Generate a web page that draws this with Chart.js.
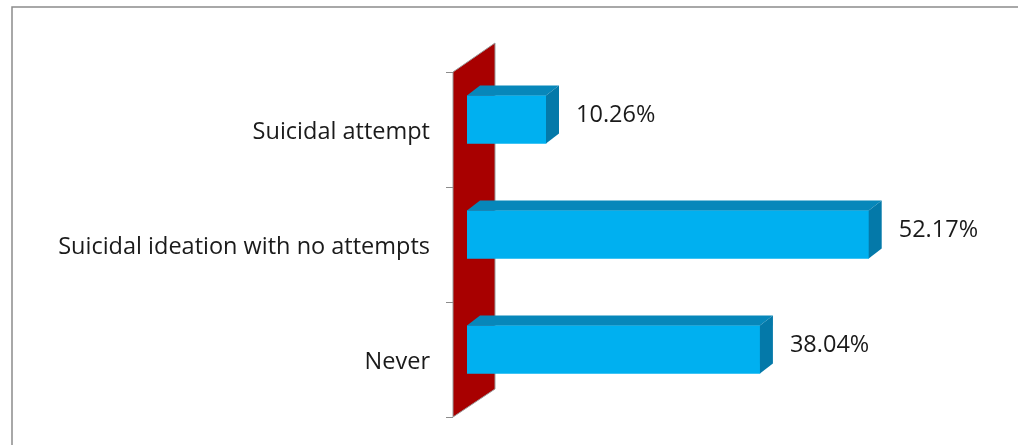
<!DOCTYPE html>
<html>
<head>
<meta charset="utf-8">
<script src="https://cdn.jsdelivr.net/npm/chart.js@4.4.0/dist/chart.umd.min.js"></script>
<style>
  html, body { margin: 0; padding: 0; background: #fff; }
  #wrap { width: 1018px; height: 445px; }
</style>
</head>
<body>
<div id="wrap"><canvas id="chart1"></canvas></div>
<script>
        // data
        const categories = ['Suicidal attempt', 'Suicidal ideation with no attempts', 'Never'];
        const values = [10.26, 52.17, 38.04];
        const valueLabels = ['10.26%', '52.17%', '38.04%'];

        // depth of the 3d effect
        const depthX = 13;
        const depthY = -10;

        // wall, frame and the 3d faces of the bars
        const fake3d = {
            id: 'fake3d',
            beforeDatasetsDraw(chart) {
                const c = chart.ctx;
                const a = chart.chartArea;
                const top = a.top + 10;
                const bottom = a.bottom + 10;
                const wx = a.left - 14;

                c.save();
                // outer frame
                c.strokeStyle = '#8c8c8c';
                c.lineWidth = 1.5;
                c.beginPath();
                c.moveTo(12, 445);
                c.lineTo(12, 7);
                c.lineTo(1018, 7);
                c.stroke();

                // red wall
                c.fillStyle = '#A80000';
                c.strokeStyle = '#9a9a9a';
                c.lineWidth = 1;
                c.beginPath();
                c.moveTo(wx, top);
                c.lineTo(wx + 42, top - 29);
                c.lineTo(wx + 42, bottom - 28);
                c.lineTo(wx, bottom);
                c.closePath();
                c.fill();
                c.stroke();

                // tick marks
                c.strokeStyle = '#8c8c8c';
                const n = categories.length;
                for (let i = 0; i <= n; i++) {
                    const y = Math.round(top + (bottom - top) * i / n) + 0.5;
                    c.beginPath();
                    c.moveTo(wx - 7, y);
                    c.lineTo(wx, y);
                    c.stroke();
                }
                c.restore();
            },
            afterDatasetsDraw(chart) {
                const c = chart.ctx;
                const meta = chart.getDatasetMeta(0);
                c.save();
                meta.data.forEach((bar, i) => {
                    const x0 = bar.base;
                    const x1 = bar.x;
                    const yt = bar.y - bar.height / 2;
                    const yb = bar.y + bar.height / 2;

                    // top face
                    c.fillStyle = '#0787BA';
                    c.beginPath();
                    c.moveTo(x0, yt);
                    c.lineTo(x0 + depthX, yt + depthY);
                    c.lineTo(x1 + depthX, yt + depthY);
                    c.lineTo(x1, yt);
                    c.closePath();
                    c.fill();

                    // right face
                    c.fillStyle = '#0479A9';
                    c.beginPath();
                    c.moveTo(x1, yt);
                    c.lineTo(x1 + depthX, yt + depthY);
                    c.lineTo(x1 + depthX, yb + depthY);
                    c.lineTo(x1, yb);
                    c.closePath();
                    c.fill();

                    // value label
                    c.fillStyle = '#1a1a1a';
                    c.font = '23.5px "Open Sans"';
                    c.textAlign = 'left';
                    c.textBaseline = 'middle';
                    c.fillText(valueLabels[i], x1 + depthX + 17, bar.y - 4);
                });
                c.restore();
            }
        };

        const ctx1 = document.getElementById('chart1');

        new Chart(ctx1, {
        type: 'bar',
        data: {
            labels: categories,
            datasets: [{
                label: 'Suicidal behaviour',
                data: values,
                backgroundColor: '#00B0F0',
                borderWidth: 0,
                barThickness: 48,
            }]
        },
        plugins: [fake3d],
        options: {
            indexAxis: 'y',
            responsive: true,
            maintainAspectRatio: false,
            animation: false,
            layout: {
                padding: { left: 0, right: 12, top: 62, bottom: 38 }
            },
            plugins: {
                legend: { display: false },
                tooltip: { enabled: false },
            },
            scales: {
                x: {
                    display: false,
                    min: 0,
                    max: 70,
                },
                y: {
                    afterFit(scale) {
                        scale.width = 467;
                        scale.paddingTop = 0;
                        scale.paddingBottom = 0;
                    },
                    grid: { display: false },
                    border: { display: false },
                    ticks: {
                        color: '#1a1a1a',
                        font: { family: 'Open Sans', size: 23.5 },
                        padding: 29,
                        labelOffset: 13,
                    }
                }
            }
        }
        });
</script>
</body>
</html>
